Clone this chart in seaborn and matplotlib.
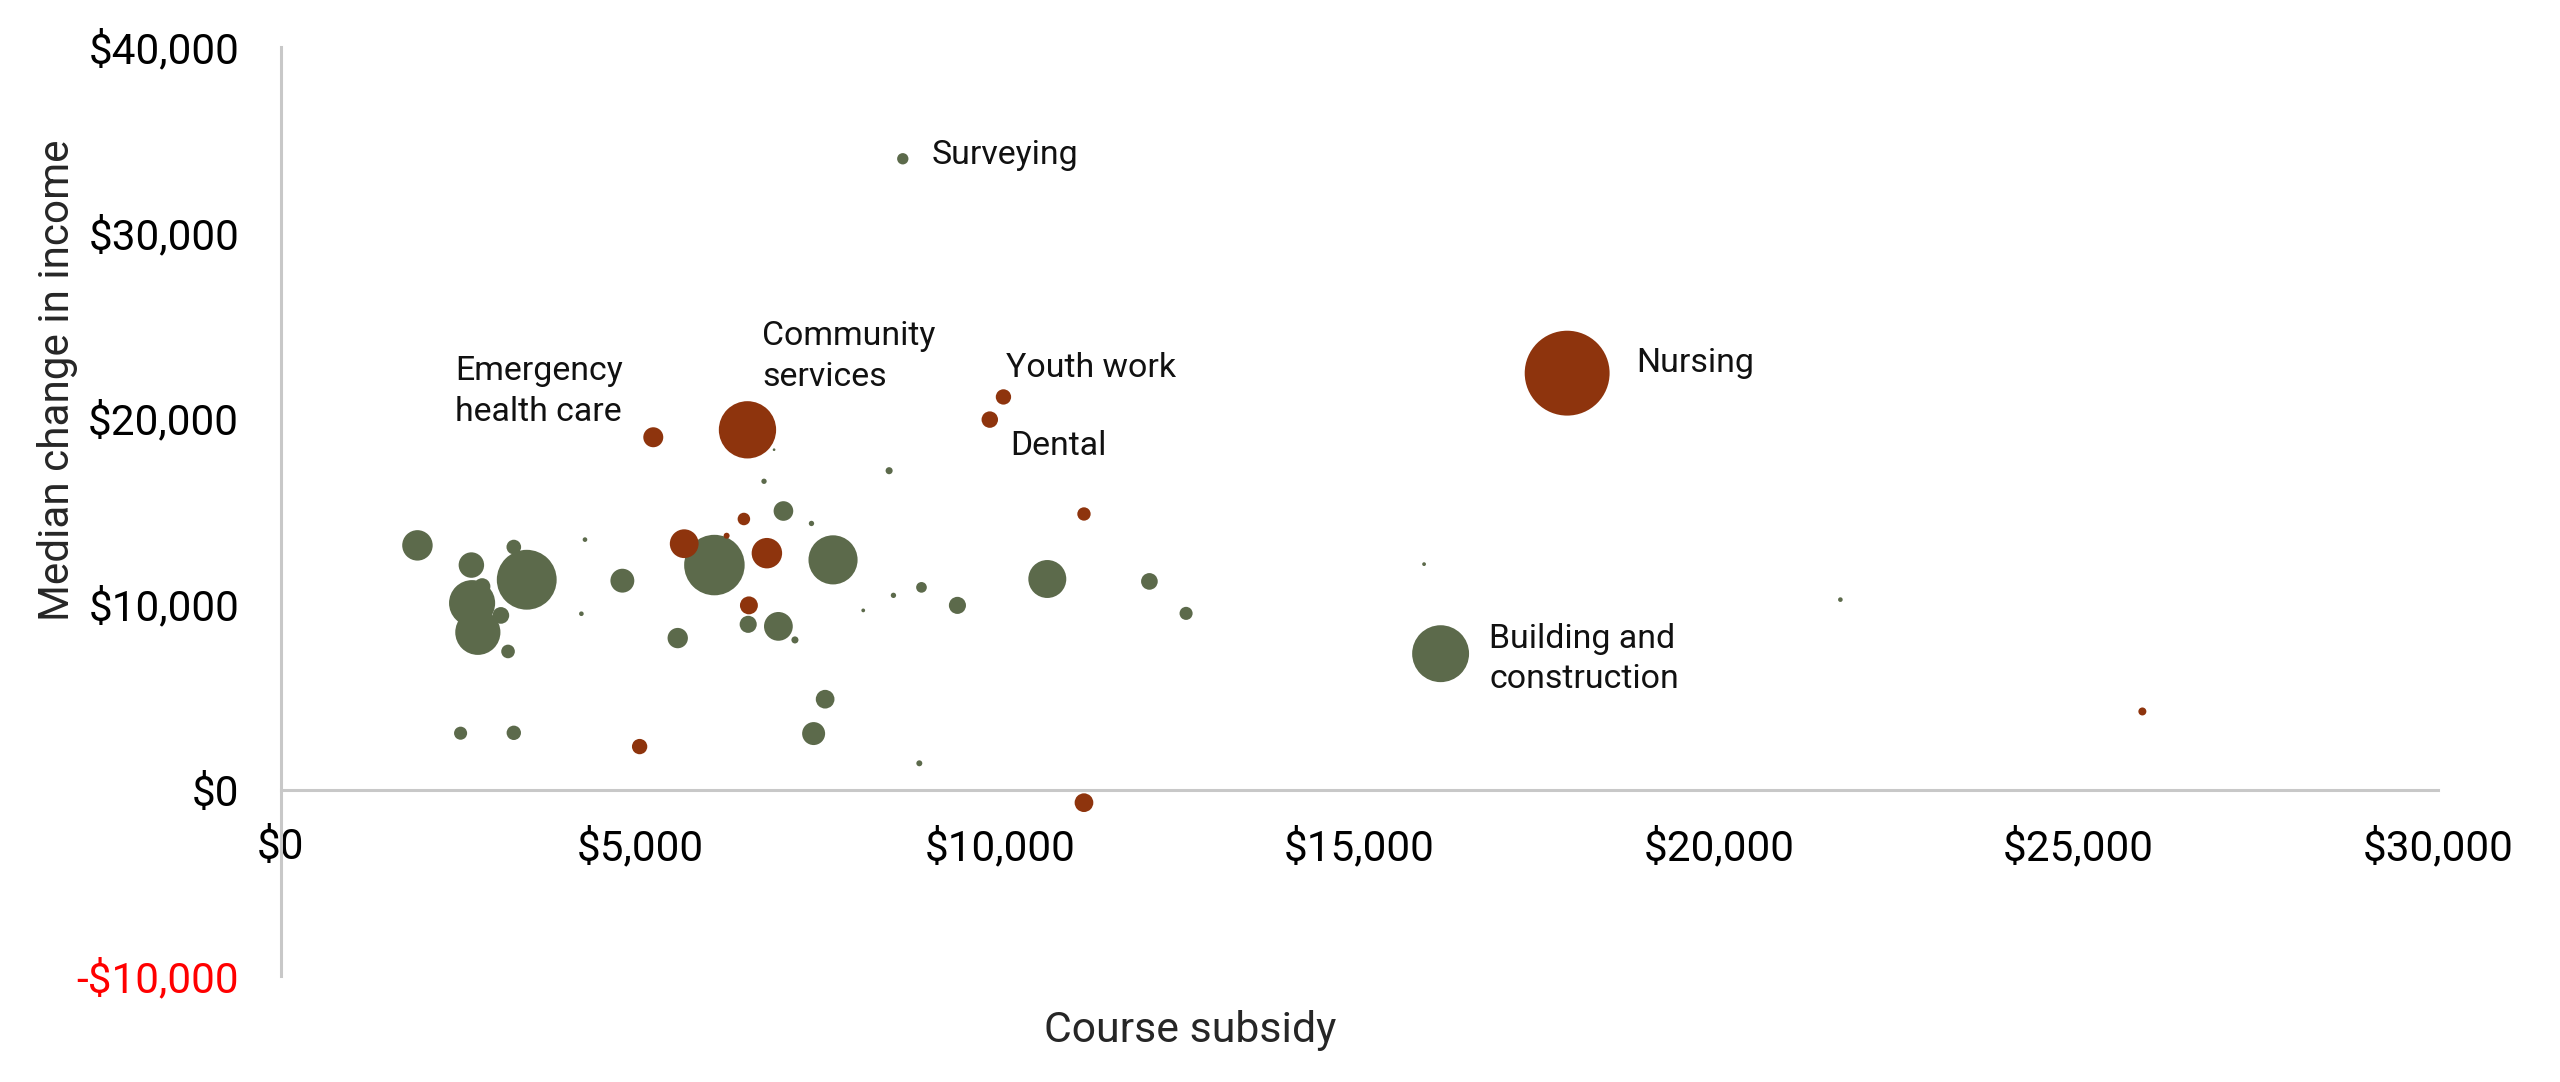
import pandas as pd
import seaborn as sns
import matplotlib.pyplot as plt
from matplotlib.ticker import FuncFormatter, MultipleLocator

# Course-level values
# green = other courses, red = care / health courses (drawn on top)
green_subsidy = [1900, 2650, 3240, 3420, 2660, 2740, 2800, 3060, 3160, 4230,
                 4180, 4750, 5520, 6030, 6720, 6990, 6920, 7150, 7380, 7680,
                 8460, 8520, 8910, 8100, 7570, 7410, 8880, 2500, 3240, 6500,
                 9410, 10660, 12080, 12590, 8650, 15900, 16130, 21690, 6860, 5550]
green_income = [13160, 12100, 13070, 11310, 10050, 8480, 10950, 9390, 7450, 13470,
                9480, 11260, 8170, 12100, 16610, 15010, 8800, 8070, 14340, 12380,
                17180, 10470, 10900, 9660, 4880, 3030, 1430, 3050, 3070, 8910,
                9930, 11350, 11220, 9500, 33970, 12150, 7330, 10240, 18310, 13230]
green_students = [1300, 910, 300, 5020, 2980, 2860, 380, 390, 260, 30,
                  30, 800, 580, 5130, 40, 540, 1160, 70, 40, 3380,
                  70, 40, 160, 20, 490, 740, 50, 240, 290, 410,
                  410, 2020, 390, 240, 180, 20, 4540, 30, 10, 30]
green_course = [""] * 34 + ["Surveying", "", "Building and\nconstruction", "", "", ""]

red_subsidy = [17890, 6490, 5180, 10050, 9860, 11170, 6440, 5610, 6760, 6200,
               6510, 4990, 11170, 25890]
red_income = [22430, 19380, 18980, 21150, 19930, 14850, 14580, 13250, 12740, 13680,
              9930, 2330, -690, 4220]
red_students = [10100, 4600, 560, 330, 380, 250, 220, 1160, 1300, 50,
                450, 330, 490, 90]
red_course = ["Nursing", "Community\nservices", "Emergency\nhealth care", "Youth work", "Dental",
              "", "", "", "", "", "", "", "", ""]

df = pd.concat([
    pd.DataFrame({"subsidy": green_subsidy, "income": green_income,
                  "students": green_students, "course": green_course, "group": "Other"}),
    pd.DataFrame({"subsidy": red_subsidy, "income": red_income,
                  "students": red_students, "course": red_course, "group": "Care"}),
], ignore_index=True)

GREEN = "#5C6A4B"
RED = "#8E340D"
AXIS_GREY = "#C8C8C8"

sns.set_style("white")
plt.rcParams["font.family"] = ["Roboto", "DejaVu Sans"]

fig = plt.figure(figsize=(12.8, 5.41), dpi=200)
ax = fig.add_axes([0.1097, 0.0983, 0.8426, 0.8585])

# area-proportional bubbles, like Excel
smax = max(df["students"])
sns.scatterplot(data=df, x="subsidy", y="income", hue="group", size="students",
                palette={"Other": GREEN, "Care": RED},
                sizes=(0, 934), size_norm=(0, smax),
                linewidth=0, alpha=1, legend=False, ax=ax, zorder=3)

ax.set_xlim(0, 30000)
ax.set_ylim(-10000, 40000)
ax.xaxis.set_major_locator(MultipleLocator(5000))
ax.yaxis.set_major_locator(MultipleLocator(10000))

def money(v, pos):
    v = int(round(v))
    return f"-${abs(v):,}" if v < 0 else f"${v:,}"

ax.xaxis.set_major_formatter(FuncFormatter(money))
ax.yaxis.set_major_formatter(FuncFormatter(money))
ax.tick_params(axis="both", length=0, labelsize=15.2, colors="black")
ax.tick_params(axis="y", pad=15)
ax.tick_params(axis="x", pad=13.5)
for lab in ax.get_yticklabels():
    if lab.get_text().startswith("-"):
        lab.set_color("red")

for side in ["top", "right"]:
    ax.spines[side].set_visible(False)
ax.spines["bottom"].set_position(("data", 0))
for side in ["left", "bottom"]:
    ax.spines[side].set_color(AXIS_GREY)
    ax.spines[side].set_linewidth(1.1)
ax.grid(False)

ax.set_xlabel("Course subsidy", fontsize=15.4, va="center")
ax.set_ylabel("Median change in income", fontsize=15.2, va="center")
ax.xaxis.set_label_coords(0.4218, -0.0586)
ax.yaxis.set_label_coords(-0.1037, 0.6406)

# label offsets in points from each named bubble
offsets = {
    "Surveying": (10.4, 1.5),
    "Nursing": (24.8, 3.7),
    "Building and\nconstruction": (17.5, -1.9),
    "Community\nservices": (5.2, 26.5),
    "Emergency\nhealth care": (-71.4, 16.5),
    "Youth work": (0.8, 10.4),
    "Dental": (7.4, -9.6),
}
for _, row in df[df["course"] != ""].iterrows():
    ax.annotate(row["course"], (row["subsidy"], row["income"]),
                xytext=offsets[row["course"]], textcoords="offset points",
                ha="left", va="center", fontsize=12.2, linespacing=1.35,
                color="#111111", zorder=4)

fig.savefig("out.png", dpi=200, facecolor="white")
